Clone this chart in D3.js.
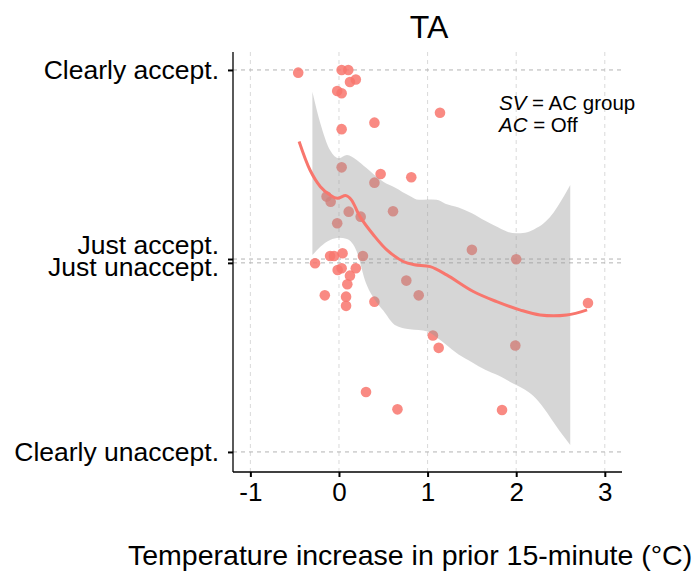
<!DOCTYPE html>
<html>
<head>
<meta charset="utf-8">
<script src="https://cdn.jsdelivr.net/npm/d3@7"></script>
<style>
  body { margin: 0; background: #fff; }
  text { font-family: "Liberation Sans", Arial, sans-serif; fill: #000; }
</style>
</head>
<body>
<div id="chart"></div>
<script>
// data
const pointsX = [-0.46, 0.03, 0.105, 0.124, 0.19, -0.02, 0.03, 1.14, 0.40, 0.03, 0.03, 0.47, 0.816, 0.40,
  -0.14, -0.094, 0.11, 0.245, 0.61, -0.02, 1.50, 2.0, -0.27, -0.10, -0.056, 0.04, 0.27, -0.015, 0.03,
  0.19, 0.124, 0.094, -0.16, 0.08, 0.08, 0.40, 0.76, 0.90, 1.06, 1.125, 1.99, 2.81, 0.305, 0.66, 1.84]
const pointsY = [0.986, 1.0, 1.0, 0.937, 0.95, 0.89, 0.878, 0.776, 0.724, 0.69, 0.49, 0.455, 0.438, 0.41,
  0.337, 0.31, 0.258, 0.232, 0.26, 0.197, 0.058, 0.009, -0.012, 0.026, 0.026, 0.04, 0.026, -0.047, -0.038,
  -0.038, -0.077, -0.122, -0.18, -0.187, -0.235, -0.213, -0.103, -0.18, -0.39, -0.455, -0.443, -0.22,
  -0.686, -0.777, -0.78]

const smoothX = [-0.45, -0.327, -0.21, -0.10, -0.02, 0.08, 0.14, 0.237, 0.39, 0.54, 0.726, 0.85, 1.03,
  1.215, 1.516, 1.78, 2.04, 2.27, 2.57, 2.80]
const smoothY = [0.625, 0.476, 0.389, 0.345, 0.328, 0.342, 0.32, 0.232, 0.136, 0.058, -0.003, -0.02, -0.03,
  -0.073, -0.16, -0.213, -0.256, -0.283, -0.283, -0.256]

const bandX = [-0.30, -0.21, -0.10, 0.0, 0.09, 0.2, 0.3, 0.4, 0.5, 0.63, 0.8, 0.9, 1.0, 1.1, 1.2, 1.35,
  1.5, 1.65, 1.8, 1.9, 2.0, 2.1, 2.2, 2.31, 2.4, 2.49, 2.61]
const bandUpper = [0.886, 0.72, 0.58, 0.538, 0.555, 0.529, 0.49, 0.45, 0.415, 0.385, 0.34, 0.32, 0.322,
  0.32, 0.30, 0.28, 0.25, 0.21, 0.175, 0.153, 0.145, 0.148, 0.165, 0.197, 0.24, 0.302, 0.398]
const bandLower = [0.031, 0.075, 0.11, 0.122, 0.115, 0.05, -0.11, -0.2, -0.26, -0.335, -0.358, -0.362,
  -0.37, -0.40, -0.435, -0.49, -0.53, -0.57, -0.60, -0.625, -0.65, -0.675, -0.71, -0.77, -0.83, -0.89, -0.963]

const xTicks = [-1, 0, 1, 2, 3]
const yTickValues = [1, 0.01, -0.01, -1]
// the two middle ticks share one two-line label, centred on the zero line
const yTickLabels = [['Clearly accept.'], ['Just accept.', 'Just unaccept.'], ['Clearly unaccept.']]
const yLabelValues = [1, 0, -1]

const width = 693
const height = 571
const panel = { left: 233, right: 622, top: 52, bottom: 472 }
const salmon = '#F8766D'

const svg = d3.select('#chart')
  .append('svg')
  .attr('width', width)
  .attr('height', height)

const x = d3.scaleLinear().domain([-1.196, 3.194]).range([panel.left, panel.right])
const y = d3.scaleLinear().domain([-1.105, 1.094]).range([panel.bottom, panel.top])

// grid
svg.append('g')
  .selectAll('line')
  .data(xTicks)
  .join('line')
  .attr('x1', (d) => x(d))
  .attr('x2', (d) => x(d))
  .attr('y1', panel.top)
  .attr('y2', panel.bottom)
  .attr('stroke', '#d9d9d9')
  .attr('stroke-width', 1)
  .attr('stroke-dasharray', '4,4')

svg.append('g')
  .selectAll('line')
  .data(yTickValues)
  .join('line')
  .attr('x1', panel.left)
  .attr('x2', panel.right)
  .attr('y1', (d) => y(d))
  .attr('y2', (d) => y(d))
  .attr('stroke', '#b3b3b3')
  .attr('stroke-width', 1)
  .attr('stroke-dasharray', '4,4')

// points first, band goes over them (like ggplot)
svg.append('g')
  .selectAll('circle')
  .data(pointsX.map((d, i) => [d, pointsY[i]]))
  .join('circle')
  .attr('cx', (d) => x(d[0]))
  .attr('cy', (d) => y(d[1]))
  .attr('r', 5.3)
  .attr('fill', salmon)
  .attr('fill-opacity', 0.85)

const band = d3.area()
  .x((d) => x(d[0]))
  .y0((d) => y(d[1]))
  .y1((d) => y(d[2]))
  .curve(d3.curveMonotoneX)

svg.append('path')
  .datum(bandX.map((d, i) => [d, bandLower[i], bandUpper[i]]))
  .attr('d', band)
  .attr('fill', '#999999')
  .attr('fill-opacity', 0.4)

const line = d3.line()
  .x((d) => x(d[0]))
  .y((d) => y(d[1]))
  .curve(d3.curveCatmullRom)

svg.append('path')
  .datum(smoothX.map((d, i) => [d, smoothY[i]]))
  .attr('d', line)
  .attr('fill', 'none')
  .attr('stroke', salmon)
  .attr('stroke-width', 3)

// axes
const xAxis = svg.append('g')
  .attr('transform', `translate(0,${panel.bottom})`)
  .call(d3.axisBottom(x).tickValues(xTicks).tickSize(5).tickFormat((d) => String(d)))
xAxis.select('.domain').remove()
xAxis.selectAll('.tick line').attr('stroke', '#000').attr('stroke-width', 2)
xAxis.selectAll('.tick text')
  .attr('font-family', '"Liberation Sans", Arial, sans-serif')
  .attr('font-size', 26)
  .attr('dy', null)
  .attr('y', 29)

const yAxis = svg.append('g')
  .attr('transform', `translate(${panel.left},0)`)
  .call(d3.axisLeft(y).tickValues(yTickValues).tickSize(5).tickFormat(() => ''))
yAxis.select('.domain').remove()
yAxis.selectAll('.tick line').attr('stroke', '#000').attr('stroke-width', 2)

// y labels: one text per label, lines as tspans
const lineGap = 21.5
const yLabels = svg.append('g')
  .selectAll('text')
  .data(yLabelValues)
  .join('text')
  .attr('x', 219)
  .attr('y', (d, i) => y(d) + 9 - (yTickLabels[i].length - 1) * (lineGap / 2 + 5))
  .attr('text-anchor', 'end')
  .attr('font-size', 26.5)

yLabels.each(function (d, i) {
  const t = d3.select(this)
  yTickLabels[i].forEach((s, k) => {
    t.append('tspan')
      .attr('x', 219)
      .attr('dy', k === 0 ? 0 : lineGap)
      .text(s)
  })
})

svg.append('line')
  .attr('x1', panel.left).attr('x2', panel.left)
  .attr('y1', panel.top).attr('y2', panel.bottom)
  .attr('stroke', '#000').attr('stroke-width', 1.3)
svg.append('line')
  .attr('x1', panel.left).attr('x2', panel.right)
  .attr('y1', panel.bottom).attr('y2', panel.bottom)
  .attr('stroke', '#000').attr('stroke-width', 1.3)

// title, annotation, axis title
svg.append('text')
  .attr('x', 429)
  .attr('y', 38)
  .attr('text-anchor', 'middle')
  .attr('font-size', 32)
  .text('TA')

const note = svg.append('g').attr('font-size', 20.5)
const n1 = note.append('text').attr('x', 499).attr('y', 110)
n1.append('tspan').attr('font-style', 'italic').text('SV')
n1.append('tspan').text(' = AC group')
const n2 = note.append('text').attr('x', 499).attr('y', 132)
n2.append('tspan').attr('font-style', 'italic').text('AC')
n2.append('tspan').text(' = Off')

svg.append('text')
  .attr('x', 128)
  .attr('y', 565)
  .attr('font-size', 28.5)
  .text('Temperature increase in prior 15-minute (°C)')
</script>
</body>
</html>
